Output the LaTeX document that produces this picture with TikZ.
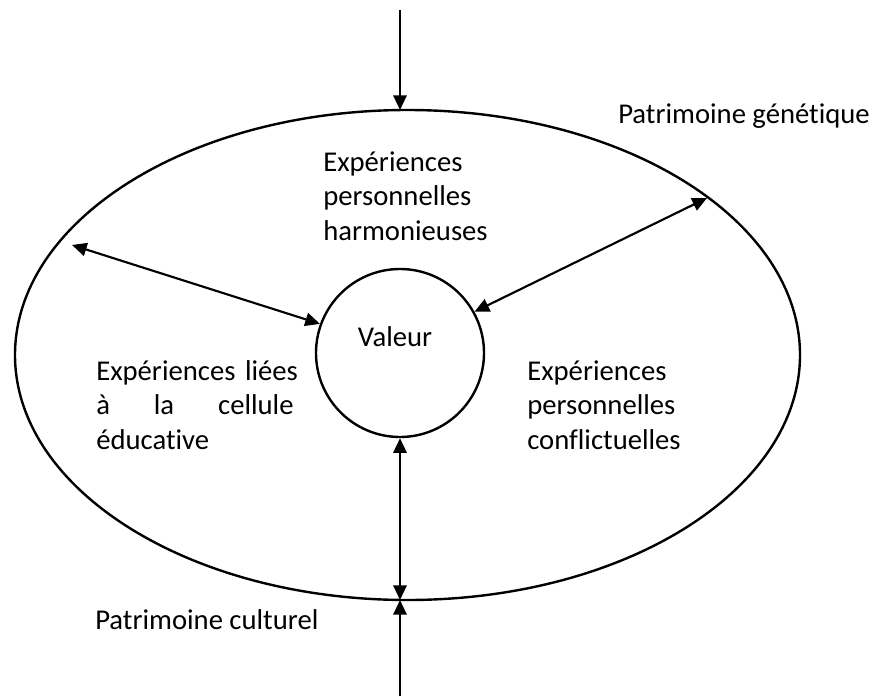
\documentclass[tikz,border=0pt]{standalone}
\usepackage{fontspec}
\setmainfont{Carlito}[Ligatures=NoCommon]
\usetikzlibrary{arrows.meta, shapes.geometric, positioning}

\begin{document}
\begin{tikzpicture}[x=0.75pt, y=-0.75pt,
    every node/.style={font=\fontsize{21.5}{25.9}\selectfont, inner sep=0pt},
    tip/.style={line width=1.6pt, -{Triangle[length=11pt, width=10pt]}},
    both/.style={line width=1.6pt, {Triangle[length=11pt, width=10pt]}-{Triangle[length=11pt, width=10pt]}},
    txt/.style={anchor=base west, align=left, text width=170pt}]
    \useasboundingbox (0,0) rectangle (878,696);
    % outer ellipse and the value circle
    \node[draw, ellipse, line width=1.8pt, minimum width=588.75pt, minimum height=367.5pt, outer sep=0pt] (ell) at (407.5,355) {};
    \node[draw, circle, line width=1.8pt, minimum size=126pt] (val) at (400,353) {};
    \node[anchor=base] (valtxt) at (395,346) {Valeur};
    % texts
    \node[txt] (harm) at (323,171) {Expériences\\personnelles\\harmonieuses};
    \node[txt] (educ) at (96,380) {Expériences liées\\\leavevmode\hbox to 148pt{à\hfill la\hfill cellule}\\éducative};
    \node[txt] (confl) at (527,380) {Expériences\\personnelles\\conflictuelles};
    \node[anchor=base west] (gene) at (618,123) {Patrimoine génétique};
    \node[anchor=base west] (cult) at (95,629) {Patrimoine culturel};
    % arrows
    \coordinate (topin) at (400,10);
    \coordinate (botin) at (400,696);
    \coordinate (lend) at (72,245);
    \coordinate (rend) at (707,198);
    \draw[tip] (topin) -- (topin |- ell.north);
    \draw[tip] (botin) -- (botin |- ell.south);
    \draw[both] (botin |- ell.south) -- (val.south);
    \draw[both] (lend) -- (val.160);
    \draw[both] (rend) -- (val.29);
\end{tikzpicture}
\end{document}
